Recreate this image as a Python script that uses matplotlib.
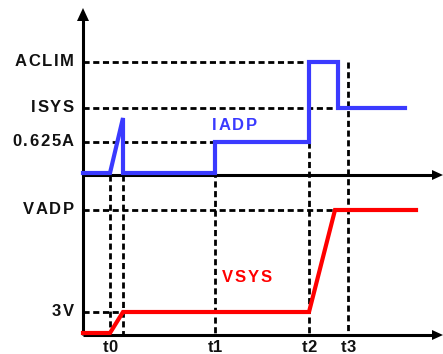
import matplotlib
matplotlib.use("Agg")
import matplotlib.pyplot as plt
from matplotlib.textpath import TextPath
from matplotlib.font_manager import FontProperties

# ---- data (diagram coordinates: x = time axis position, y = level position, y grows downward) ----
tick_labels = ["t0", "t1", "t2", "t3"]
tick_times = [110, 215, 309, 348]
t0b = 123  # end of t0 ramp

current_labels = ["ACLIM", "ISYS", "0.625A"]
current_levels = [62, 108, 142]
voltage_labels = ["VADP", "3V"]
voltage_levels = [210, 312]

iadp_t = [83, 110, 123, 123, 215, 215, 309, 309, 338, 338, 405]
iadp_v = [173, 173, 118, 173, 173, 142, 142, 62, 62, 108, 108]

vsys_t = [83, 110, 123, 309, 335, 416]
vsys_v = [333, 333, 312, 312, 210, 210]

# guide line extents
hguide_end = [309, 338, 215]       # ACLIM, ISYS, 0.625A
vguide_end = [335, 123]            # VADP, 3V
vguide_top = [175, 142, 142, 62]   # t0, t1, t2, t3
t0b_top = 175

x_axis_y = [175, 335]
y_axis_x = 83

plt.rcParams['font.family'] = ['Liberation Sans', 'DejaVu Sans']

fig = plt.figure(figsize=(4.43, 3.54), dpi=100)
ax = fig.add_axes([0, 0, 1, 1])
ax.set_xlim(0, 443)
ax.set_ylim(354, 0)
ax.axis('off')

FS = 12.0
PX = FS * 100 / 72.0  # font size in pixels (1 data unit = 1 px)
fp = FontProperties(family='Liberation Sans', weight='bold')


def char_w(c):
    return TextPath((0, 0), c, size=PX, prop=fp).get_extents().width if c.strip() else PX * 0.28


def adv(c):
    # advance width of char in px
    p = TextPath((0, 0), c + "|", size=PX, prop=fp)
    q = TextPath((0, 0), "|", size=PX, prop=fp)
    return p.get_extents().x1 - q.get_extents().x1


def spaced_text(x, y, s, ha='left', color='black', spacing=1.6):
    advs = [adv(c) for c in s]
    total = sum(advs) + spacing * (len(s) - 1)
    if ha == 'right':
        x0 = x - total
    elif ha == 'center':
        x0 = x - total / 2
    else:
        x0 = x
    cx = x0
    for c, a in zip(s, advs):
        ax.text(cx, y, c, ha='left', va='center', fontsize=FS, fontweight='bold',
                color=color)
        cx += a + spacing


dash = dict(color='black', lw=2.0, ls=(0, (2.2, 1.3)), zorder=2)

# horizontal guides
for lvl, xe in zip(current_levels, hguide_end):
    ax.plot([y_axis_x, xe], [lvl, lvl], **dash)
for lvl, xe in zip(voltage_levels, vguide_end):
    ax.plot([y_axis_x, xe], [lvl, lvl], **dash)

# vertical guides
for tx, top in zip(tick_times, vguide_top):
    ax.plot([tx, tx], [top, x_axis_y[1]], **dash)
ax.plot([t0b, t0b], [t0b_top, x_axis_y[1]], **dash)

# axes lines
ax.plot([y_axis_x, y_axis_x], [20, x_axis_y[1]], color='black', lw=2.2, zorder=3, solid_capstyle='butt')
for yy in x_axis_y:
    ax.plot([y_axis_x, 432], [yy, yy], color='black', lw=2.2, zorder=3, solid_capstyle='butt')
    ax.fill([432, 443, 432], [yy - 5, yy, yy + 5], color='black', zorder=3, lw=0)
ax.fill([77, 83, 89], [21, 8, 21], color='black', zorder=3, lw=0)

# signals
ax.plot(iadp_t, iadp_v, color='#3a3aff', lw=3.0, zorder=4, solid_joinstyle='miter')
ax.plot(vsys_t, vsys_v, color='#ff0000', lw=3.0, zorder=4, solid_joinstyle='miter')

# labels
for lab, lvl in zip(current_labels + voltage_labels, current_levels + voltage_levels):
    spaced_text(74, lvl, lab, ha='right', color='#111111')
for lab, tx in zip(tick_labels, tick_times):
    spaced_text(tx, 348, lab, ha='center', color='#111111', spacing=0.6)

spaced_text(212, 125, "IADP", ha='left', color='#3a3aff')
spaced_text(222, 278, "VSYS", ha='left', color='#ff0000')

fig.savefig("out.png", dpi=100)
